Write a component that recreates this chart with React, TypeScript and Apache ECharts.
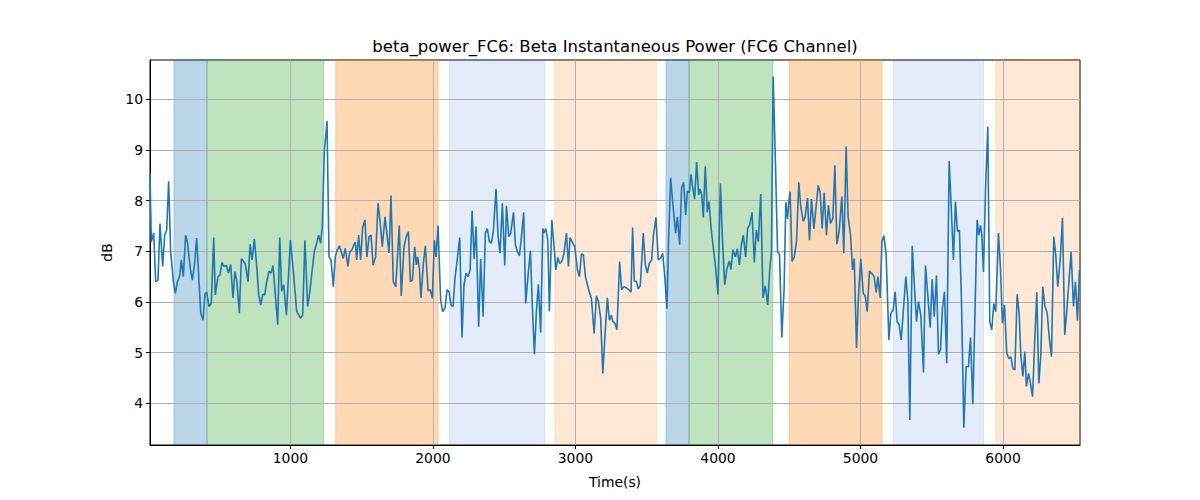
import React, { useEffect, useRef } from "react";
import * as echarts from "echarts";

const timeS = [
  15, 24, 41, 55, 71, 85, 104, 118, 132, 146, 160, 179, 193, 207, 223, 235, 249, 265, 277, 298,
  312, 328, 342, 354, 371, 387, 401, 413, 429, 445, 462, 473, 492, 506, 520, 534, 551, 565, 581, 597,
  611, 625, 642, 656, 670, 684, 703, 717, 731, 747, 761, 778, 792, 806, 820, 834, 850, 864, 878, 911,
  925, 939, 953, 972, 1000, 1021, 1044, 1070, 1086,
  1102, 1121, 1135, 1154, 1168, 1187, 1198, 1212, 1224, 1238, 1257, 1271, 1285, 1301, 1315, 1329, 1343, 1357, 1371, 1385,
  1404, 1416, 1432, 1446, 1456, 1465, 1479, 1493, 1507, 1523, 1537, 1552, 1566, 1580, 1598, 1615, 1629, 1645, 1664, 1678,
  1692, 1706, 1722, 1739, 1764, 1778, 1797, 1813, 1828, 1842, 1856, 1872, 1884, 1893, 1905, 1916, 1933, 1947, 1966, 1982,
  1996, 2010, 2022, 2036, 2054, 2068, 2085, 2099, 2113, 2127, 2141, 2155, 2169, 2188,
  2204, 2218, 2233, 2247, 2261, 2275, 2289, 2303, 2321, 2335, 2352, 2368, 2382, 2396, 2410, 2424, 2443, 2457, 2471, 2487,
  2504, 2516, 2532, 2546, 2565, 2579, 2593, 2607, 2621, 2637, 2651, 2670, 2684, 2698, 2712, 2726, 2740, 2756, 2771, 2780,
  2792, 2806, 2817, 2834, 2848, 2862, 2876, 2890, 2904, 2918, 2937, 2951, 2962, 2976, 2995, 3014, 3028, 3042, 3056, 3070,
  3084, 3098, 3112, 3131, 3147, 3161, 3177, 3192, 3208, 3224, 3238, 3252,
  3263, 3277, 3291, 3310, 3324, 3338, 3357, 3376, 3390, 3401, 3413, 3427, 3441, 3455, 3476, 3490, 3504, 3518, 3535, 3546,
  3565, 3581, 3598, 3612, 3626, 3642, 3654, 3668, 3684, 3703, 3715, 3731, 3745, 3759, 3773, 3785, 3799, 3811, 3820, 3836,
  3850, 3865, 3874, 3886, 3897, 3911, 3925, 3937, 3953, 3970, 3984, 4000, 4017, 4031, 4047, 4063, 4080, 4091, 4105, 4122,
  4136, 4150, 4164, 4178, 4194, 4208, 4222, 4239, 4255, 4269, 4283, 4300, 4316, 4332, 4349, 4363,
  4375, 4387, 4401, 4418, 4432, 4448, 4464, 4476, 4488, 4497, 4506, 4520, 4535, 4551, 4567, 4581, 4598, 4612, 4628, 4642,
  4656, 4673, 4687, 4703, 4717, 4731, 4745, 4761, 4775, 4789, 4806, 4820, 4834, 4850, 4869, 4883, 4899, 4913, 4930, 4944,
  4956, 4972, 4986, 5002, 5019, 5033, 5047, 5063, 5077, 5096, 5110, 5122, 5138, 5150, 5164, 5180, 5199, 5213, 5229, 5243,
  5257, 5271, 5285, 5302, 5318, 5332, 5346, 5363, 5379, 5393, 5407, 5423,
  5442, 5456, 5472, 5489, 5503, 5517, 5533, 5547, 5561, 5575, 5589, 5605, 5622, 5636, 5652, 5666, 5680, 5694, 5708, 5725,
  5741, 5757, 5772, 5788, 5804, 5818, 5830, 5842, 5851, 5863, 5877, 5893, 5907, 5921, 5935, 5949, 5968, 5982, 5996, 6010,
  6026, 6041, 6055, 6069, 6083, 6099, 6113, 6125, 6139, 6153, 6164, 6179, 6193, 6207, 6223, 6237, 6251, 6265, 6279, 6293,
  6310, 6324, 6340, 6356, 6370, 6384, 6401, 6417, 6433, 6447, 6464, 6478, 6494, 6508, 6522, 6536,
];

const powerDb = [
  8.54, 7.19, 7.36, 6.4, 6.43, 7.55, 6.7, 7.32, 7.42, 8.38, 6.99, 6.4, 6.17, 6.4, 6.5, 6.83, 6.5, 7.32, 7.19, 6.66,
  6.43, 6.76, 7.26, 6.66, 5.78, 5.64, 6.17, 6.19, 5.91, 5.97, 7.27, 6.14, 6.5, 6.53, 6.78, 6.7, 6.72, 6.57, 6.74, 6.08,
  6.6, 6.4, 5.78, 6.85, 6.81, 6.74, 6.4, 7.14, 6.83, 7.24, 6.8, 6.14, 5.94, 6.15, 6.14, 6.4, 6.61, 6.57, 6.72, 5.55,
  7.27, 6.21, 6.34, 5.74, 7.22, 6.6, 5.82, 5.68, 5.74,
  7.22, 5.91, 6.17, 6.66, 6.99, 7.19, 7.32, 7.16, 7.49, 8.97, 9.57, 6.89, 6.83, 6.3, 6.89, 7.03, 7.11, 6.99, 6.86, 7.06,
  6.7, 6.99, 7.03, 7.13, 7.18, 6.83, 7.32, 6.83, 7.47, 7.62, 6.89, 7.29, 7.32, 6.73, 6.89, 7.95, 7.59, 7.09, 7.68, 7.32,
  6.97, 8.1, 6.4, 6.3, 7.51, 6.12, 7.09, 7.29, 7.39, 6.4, 6.43, 7.09, 6.73, 6.89, 6.66, 6.08, 6.76, 7.11, 6.22, 6.24,
  6.07, 7.22, 6.89, 7.51, 6.04, 5.81, 5.88, 6.24, 6.2, 5.94, 5.91, 6.47, 6.8, 7.27,
  5.3, 6.34, 6.57, 6.5, 6.63, 7.8, 6.85, 7.49, 5.51, 6.85, 5.71, 7.36, 7.45, 7.19, 7.16, 7.39, 8.23, 7.29, 6.96, 7.95,
  6.72, 7.9, 7.29, 7.36, 7.77, 7.13, 6.99, 6.91, 7.29, 7.77, 5.97, 6.6, 7.01, 5.88, 4.97, 5.81, 6.35, 5.4, 7.45, 7.36,
  7.45, 7.22, 5.81, 7.62, 7.16, 6.63, 6.88, 6.76, 6.8, 6.93, 7.36, 6.7, 7.27, 7.19, 7.09, 6.63, 6.5, 6.95, 6.93, 6.5,
  6.34, 6.19, 6.07, 5.38, 6.12, 6.01, 5.68, 4.59, 5.38, 6.08, 5.64, 5.74,
  5.61, 5.58, 5.45, 6.8, 6.24, 6.3, 6.28, 6.24, 6.19, 7.47, 6.41, 6.41, 6.26, 6.32, 7.36, 6.74, 6.57, 6.76, 6.83, 7.29,
  7.67, 6.83, 6.86, 6.96, 6.53, 5.86, 7.27, 8.45, 7.91, 7.36, 7.68, 7.13, 8.26, 8.36, 7.72, 8.19, 8.16, 8.52, 8.3, 8.03,
  8.76, 8.11, 8.23, 8.11, 7.67, 8.68, 7.77, 7.98, 7.42, 7.01, 6.66, 6.15, 8.34, 7.26, 6.34, 6.66, 6.81, 6.64, 7.03, 6.89,
  7.05, 6.73, 7.13, 7.32, 6.89, 7.45, 7.52, 7.77, 6.78, 7.42, 7.19, 8.13, 6.08, 6.32, 5.94, 6.63,
  6.99, 10.45, 9.0, 6.99, 6.93, 5.3, 6.27, 7.97, 7.64, 7.98, 8.18, 6.8, 6.89, 7.19, 8.36, 7.88, 7.59, 7.68, 8.05, 7.22,
  8.03, 7.44, 7.84, 8.3, 8.16, 7.45, 8.16, 7.32, 7.91, 7.55, 7.65, 8.7, 7.14, 7.39, 8.08, 6.96, 9.07, 7.68, 7.32, 6.63,
  6.86, 5.09, 6.14, 6.85, 6.17, 6.12, 5.81, 6.61, 6.57, 6.5, 6.19, 6.5, 6.08, 7.19, 7.31, 6.93, 5.25, 5.78, 5.84, 6.2,
  5.61, 5.55, 5.25, 5.88, 6.5, 6.04, 3.67, 7.11, 6.27, 5.61, 6.01, 5.74,
  4.61, 6.72, 6.14, 5.49, 6.45, 5.71, 6.52, 4.97, 5.05, 5.88, 6.2, 4.79, 8.78, 7.91, 6.83, 7.98, 7.39, 7.42, 6.07, 3.52,
  4.72, 4.72, 5.3, 3.98, 5.88, 7.62, 7.32, 7.51, 7.32, 6.59, 8.24, 9.46, 5.61, 5.45, 5.97, 5.81, 7.36, 6.66, 5.58, 5.94,
  4.99, 4.88, 4.92, 4.69, 4.66, 6.15, 5.78, 4.95, 4.53, 5.02, 4.33, 4.59, 4.39, 4.13, 5.28, 6.19, 4.39, 4.95, 6.3, 5.93,
  5.78, 5.3, 4.92, 7.29, 6.93, 6.3, 6.83, 7.66, 5.35, 5.81, 6.47, 6.99, 5.91, 6.4, 5.63, 6.63,
];

const bandStart = [183, 415, 1318, 2117, 2855, 3635, 3797, 4499, 5232, 5949];
const bandEnd = [415, 1233, 2036, 2784, 3568, 3797, 4385, 5150, 5863, 6540];
const bandKind = ["blue", "green", "orange", "lightblue", "lightorange", "blue", "green", "orange", "lightblue", "lightorange"];

const xTicks = [1000, 2000, 3000, 4000, 5000, 6000];
const yTicks = [4, 5, 6, 7, 8, 9, 10];

const bandColors: Record<string, string> = {
  blue: "rgba(31,119,180,0.3)",
  green: "rgba(44,160,44,0.3)",
  orange: "rgba(255,127,14,0.3)",
  lightblue: "rgba(65,110,210,0.14)",
  lightorange: "rgba(255,127,14,0.17)",
};

const FONT = "DejaVu Sans";

export default function App() {
  const ref = useRef<HTMLDivElement>(null);
  useEffect(() => {
    if (!ref.current) return;
    const chart = echarts.init(ref.current, undefined, { renderer: "svg" });
    const lineData = timeS.map((t, i) => [t, powerDb[i]]);
    const areas = bandStart.map((s, i) => [
      {
        xAxis: s,
        itemStyle: {
          color: bandColors[bandKind[i]],
          borderColor: bandColors[bandKind[i]],
          borderWidth: 1,
        },
      },
      { xAxis: bandEnd[i] },
    ]);
    chart.setOption({
      animation: false,
      backgroundColor: "#fff",
      grid: {
        left: 150,
        right: 120,
        top: 60,
        bottom: 55,
        show: true,
        borderColor: "#000",
        borderWidth: 1,
        backgroundColor: "transparent",
        containLabel: false,
      },
      graphic: [
        {
          type: "text",
          x: 615,
          y: 46,
          style: {
            text: "beta_power_FC6: Beta Instantaneous Power (FC6 Channel)",
            fontFamily: FONT,
            fontSize: 16.5,
            fill: "#000",
            textAlign: "center",
            textVerticalAlign: "middle",
          },
        },
      ],
      xAxis: {
        type: "value",
        min: 15,
        max: 6540,
        z: 1.5,
        name: "Time(s)",
        nameLocation: "middle",
        nameGap: 30,
        nameTextStyle: { fontFamily: FONT, fontSize: 13.9, color: "#000" },
        axisLine: { show: true, onZero: false, lineStyle: { color: "#000", width: 1 } },
        axisTick: { show: true, length: 4, customValues: xTicks, lineStyle: { color: "#000" } },
        axisLabel: {
          customValues: xTicks,
          formatter: (v: number) => String(v),
          fontFamily: FONT,
          fontSize: 13.9,
          color: "#000",
          margin: 6,
        },
        splitLine: { show: true, lineStyle: { color: "#b0b0b0", width: 1 } },
      },
      yAxis: {
        type: "value",
        min: 3.177,
        max: 10.776,
        z: 1.5,
        name: "dB",
        nameLocation: "middle",
        nameGap: 36,
        nameRotate: 90,
        nameTextStyle: { fontFamily: FONT, fontSize: 13.9, color: "#000" },
        axisLine: { show: true, onZero: false, lineStyle: { color: "#000", width: 1 } },
        axisTick: { show: true, length: 4, customValues: yTicks, lineStyle: { color: "#000" } },
        axisLabel: {
          customValues: yTicks,
          formatter: (v: number) => String(v),
          fontFamily: FONT,
          fontSize: 13.9,
          color: "#000",
          margin: 7,
        },
        splitLine: { show: true, lineStyle: { color: "#b0b0b0", width: 1 } },
      },
      series: [
        {
          type: "line",
          z: 1,
          data: [],
          silent: true,
          markArea: { silent: true, data: areas },
        },
        {
          type: "line",
          z: 3,
          data: lineData,
          showSymbol: false,
          symbol: "none",
          lineStyle: { color: "#1f77b4", width: 1.6 },
          silent: true,
        },
      ],
    });
    return () => chart.dispose();
  }, []);
  return (
    <div
      ref={ref}
      style={{ position: "fixed", left: 0, top: 0, width: 1200, height: 500 }}
    />
  );
}
